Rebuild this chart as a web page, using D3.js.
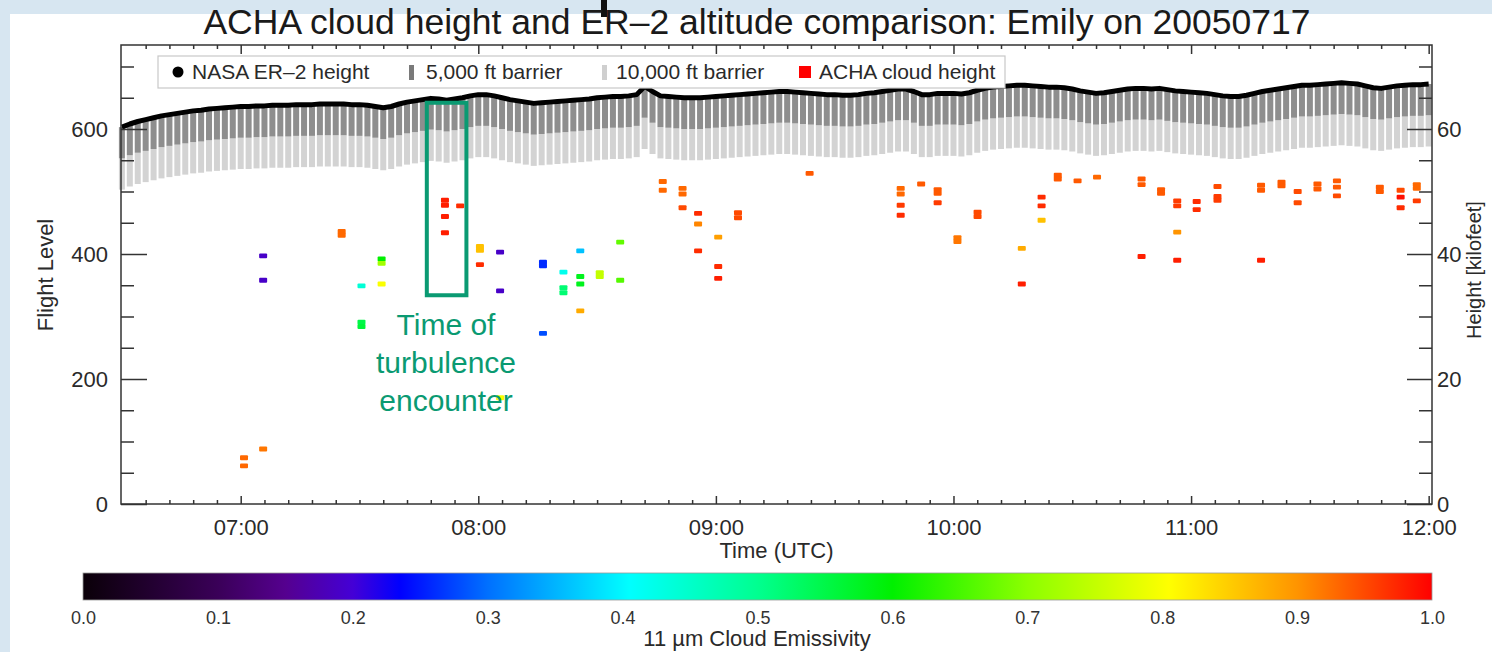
<!DOCTYPE html>
<html><head><meta charset="utf-8">
<script src="https://cdn.jsdelivr.net/npm/d3@7"></script>
<style>
body{margin:0;background:#fff;}
svg{display:block;font-family:"Liberation Sans",Arial,Helvetica,sans-serif;}
</style>
</head><body>
<svg id="c" width="1492" height="652"></svg>
<script>
// ---------------- data ----------------
const er2StartTime = "06:30:00";
const er2StepMinutes = 2;
const er2Height = [
  603,608,612,615,618, 621,623,625,627,629, 630,632,633,634,635,
  636,636,637,637,638, 638,638,639,639,639, 640,640,640,640,639,
  639,638,636,634,636, 640,643,645,647,649, 648,646,648,650,653,
  655,655,653,650,647, 645,643,641,642,643, 644,645,646,647,648,
  650,651,652,652,653, 655,668,660,653,652, 651,650,650,650,651,
  652,653,654,655,656, 657,658,659,660,660, 659,658,657,656,655,
  655,654,654,655,657, 658,660,662,664,664, 660,655,655,657,657,
  657,656,658,662,665, 667,668,669,670,670, 669,668,667,667,666,
  664,661,659,657,658, 660,662,664,665,665, 664,665,663,661,660,
  659,658,657,655,653, 652,652,654,657,660, 662,664,666,668,670,
  670,671,672,673,674, 673,672,669,666,665, 667,669,670,671,671,
  672
];
const barrierInner = 50;   // 5,000 ft
const barrierOuter = 100;  // 10,000 ft

const cloudTime = [
  "07:00:50","07:00:50",
  "07:05:40","07:05:40","07:05:40",
  "07:25:30","07:25:30",
  "07:30:30","07:30:30","07:30:30",
  "07:35:35","07:35:35","07:35:35",
  "07:51:35","07:51:35","07:51:35","07:51:35",
  "07:55:25",
  "08:00:25","08:00:25","08:00:25",
  "08:05:30","08:05:30","08:05:30",
  "08:16:20","08:16:20","08:16:20",
  "08:21:30","08:21:30","08:21:30",
  "08:25:45","08:25:45","08:25:45","08:25:45",
  "08:30:40","08:30:40",
  "08:35:50","08:35:50",
  "08:46:35","08:46:35",
  "08:51:35","08:51:35","08:51:35",
  "08:55:30","08:55:30","08:55:30",
  "09:00:35","09:00:35","09:00:35",
  "09:05:35","09:05:35",
  "09:23:40",
  "09:46:40","09:46:40","09:46:40","09:46:40",
  "09:51:50",
  "09:56:00","09:56:00","09:56:00",
  "10:01:00","10:01:00",
  "10:06:05","10:06:05",
  "10:17:15","10:17:15",
  "10:22:15","10:22:15","10:22:15",
  "10:26:20","10:26:20",
  "10:31:20",
  "10:36:15",
  "10:47:30","10:47:30","10:47:30",
  "10:52:25","10:52:25",
  "10:56:30","10:56:30","10:56:30","10:56:30",
  "11:01:25","11:01:25",
  "11:06:40","11:06:40","11:06:40",
  "11:17:40","11:17:40","11:17:40",
  "11:22:50","11:22:50",
  "11:26:55","11:26:55",
  "11:31:55","11:31:55",
  "11:36:50","11:36:50","11:36:50",
  "11:47:40","11:47:40",
  "11:52:55","11:52:55","11:52:55",
  "11:57:00","11:57:00","11:57:00"
];
const cloudFL = [
  74,61,
  88,397,358,
  436,430,
  349,291,284,
  392,385,352,
  486,478,460,434,
  477,
  412,406,383,
  403,341,170,
  387,381,273,
  371,346,338,
  405,364,352,309,
  370,364,
  419,358,
  516,502,
  505,496,474,
  465,448,405,
  427,380,361,
  466,458,
  529,
  505,496,478,462,
  512,
  503,497,482,
  426,420,
  467,460,
  409,352,
  491,477,454,
  526,520,
  517,
  523,
  520,511,396,
  503,497,
  485,477,435,390,
  484,471,
  508,492,486,
  510,502,390,
  515,509,
  500,482,
  512,504,
  517,507,493,
  507,500,
  502,491,474,
  511,505,485
];
const cloudEmis = [
  .93,.93,
  .92,.19,.19,
  .93,.93,
  .44,.55,.56,
  .60,.72,.80,
  .98,.98,.98,.98,
  .97,
  .86,.86,.97,
  .19,.19,.80,
  .26,.26,.28,
  .42,.52,.52,
  .36,.58,.58,.88,
  .75,.75,
  .67,.66,
  .93,.93,
  .93,.93,.95,
  .97,.91,.97,
  .89,.97,.98,
  .95,.95,
  .94,
  .93,.93,.96,.97,
  .94,
  .94,.94,.96,
  .92,.92,
  .95,.95,
  .88,.98,
  .97,.97,.86,
  .94,.94,
  .94,
  .93,
  .94,.94,.98,
  .94,.94,
  .96,.96,.90,.98,
  .97,.97,
  .95,.96,.96,
  .94,.94,.98,
  .94,.94,
  .95,.95,
  .94,.94,
  .94,.94,.95,
  .94,.94,
  .95,.99,.97,
  .93,.93,.96
];

const flTicks = [0, 200, 400, 600];
const kftTicks = [0, 20, 40, 60];
const timeTickLabels = ["07:00","08:00","09:00","10:00","11:00","12:00"];
const emisTicks = [0.0,0.1,0.2,0.3,0.4,0.5,0.6,0.7,0.8,0.9,1.0];
const emisStops  = [0, 0.1, 0.15, 0.2, 0.235, 0.3, 0.405, 0.5, 0.6, 0.7, 0.805, 0.9, 1.0];
const emisColors = ["#0a0008","#3a0058","#55008f","#4400d6","#0000ff","#0070ff","#00ffff","#00ff90","#00f000","#8cff00","#ffff00","#ff9400","#ff0000"];

const turbulenceStart = "07:47:00", turbulenceEnd = "07:57:00";
const turbulenceFL = [334, 642];

const titleText = "ACHA cloud height and ER\u20132 altitude comparison: Emily on 20050717";
const legendLabels = ["NASA ER\u20132 height","5,000 ft barrier","10,000 ft barrier","ACHA cloud height"];

// ---------------- helpers ----------------
const hrs = s => { const p = s.split(":").map(Number); return p[0] + p[1]/60 + (p[2]||0)/3600; };

const svg = d3.select("#c");
// slide background
svg.append("rect").attr("width",1492).attr("height",652).attr("fill","#d7e6f1");
svg.append("rect").attr("x",10).attr("y",14).attr("width",1482).attr("height",638).attr("fill","#fff");
svg.append("rect").attr("x",601).attr("y",0).attr("width",6).attr("height",17).attr("fill","#111");

const L = 121, R = 1432, T = 45, B = 504;
const x = d3.scaleLinear().domain([6.4962, 12.014]).range([L, R]);
const y = d3.scaleLinear().domain([0, 734.4]).range([B, T]);
const yK = d3.scaleLinear().domain([0, 73.44]).range([B, T]);

const emisColor = d3.scaleLinear().domain(emisStops).range(emisColors).clamp(true);

// barriers
const t0 = hrs(er2StartTime);
const er2 = er2Height.map((h,i) => ({t: t0 + i*er2StepMinutes/60, h}));
const gBar = svg.append("g");
er2.forEach(d => {
  gBar.append("rect").attr("x", x(d.t)-3).attr("width",6)
    .attr("y", y(d.h - barrierInner)).attr("height", y(d.h - barrierOuter) - y(d.h - barrierInner))
    .attr("fill","#d3d3d3");
  gBar.append("rect").attr("x", x(d.t)-3).attr("width",6)
    .attr("y", y(d.h)).attr("height", y(d.h - barrierInner) - y(d.h))
    .attr("fill","#8e8e8e");
});
// ER-2 line
svg.append("path").datum(er2)
  .attr("d", d3.line().x(d=>x(d.t)).y(d=>y(d.h)))
  .attr("fill","none").attr("stroke","#000").attr("stroke-width",5).attr("stroke-linejoin","round");

// cloud markers
svg.append("g").selectAll("rect").data(cloudTime.map((t,i)=>({t:hrs(t), fl:cloudFL[i], e:cloudEmis[i]})))
  .join("rect")
  .attr("x", d=>x(d.t)-4).attr("y", d=>y(d.fl)-2.4).attr("width",8).attr("height",4.8)
  .attr("rx",1).attr("fill", d=>emisColor(d.e));

// axes
const axisColor = "#333";
function styleAxis(g){
  g.select(".domain").remove();
  g.selectAll("line").attr("stroke",axisColor).attr("stroke-width",1.5);
  g.selectAll("text").attr("fill","#2a2a2a").attr("font-size",22).attr("font-family",'"Liberation Sans",Arial,sans-serif');
}
const minorFL = d3.range(0, 734, 50).filter(v => !flTicks.includes(v));
const minorK = d3.range(0, 73.4, 5).filter(v => !kftTicks.includes(v));
const hourTicks = timeTickLabels.map(hrs);
const minorT = d3.range(66, 721, 1).map(k=>k*0.1).filter(v => v>x.domain()[0] && v<x.domain()[1] && Math.abs(v-Math.round(v))>0.01);

svg.append("g").attr("transform",`translate(${L},0)`)
  .call(d3.axisLeft(y).tickValues(flTicks).tickSizeInner(-26).tickSizeOuter(0).tickPadding(13).tickFormat(d3.format("d")))
  .call(styleAxis);
svg.append("g").attr("transform",`translate(${L},0)`)
  .call(d3.axisLeft(y).tickValues(minorFL).tickSizeInner(-13).tickSizeOuter(0).tickFormat(""))
  .call(styleAxis);
svg.append("g").attr("transform",`translate(${R},0)`)
  .call(d3.axisRight(yK).tickValues(kftTicks).tickSizeInner(-25).tickSizeOuter(0).tickPadding(5).tickFormat(d3.format("d")))
  .call(styleAxis);
svg.append("g").attr("transform",`translate(${R},0)`)
  .call(d3.axisRight(yK).tickValues(minorK).tickSizeInner(-13).tickSizeOuter(0).tickFormat(""))
  .call(styleAxis);
svg.append("g").attr("transform",`translate(0,${B})`)
  .call(d3.axisBottom(x).tickValues(hourTicks).tickSizeInner(-8).tickSizeOuter(0).tickPadding(15).tickFormat((d,i)=>timeTickLabels[i]))
  .call(styleAxis);
svg.append("g").attr("transform",`translate(0,${B})`)
  .call(d3.axisBottom(x).tickValues(minorT).tickSizeInner(-4).tickSizeOuter(0).tickFormat(""))
  .call(styleAxis);
svg.append("g").attr("transform",`translate(0,${T})`)
  .call(d3.axisTop(x).tickValues(hourTicks).tickSizeInner(-9).tickSizeOuter(0).tickFormat(""))
  .call(styleAxis);
svg.append("g").attr("transform",`translate(0,${T})`)
  .call(d3.axisTop(x).tickValues(minorT).tickSizeInner(-4).tickSizeOuter(0).tickFormat(""))
  .call(styleAxis);
// frame
svg.append("rect").attr("x",L).attr("y",T).attr("width",R-L).attr("height",B-T)
  .attr("fill","none").attr("stroke",axisColor).attr("stroke-width",1.5);

// axis titles
svg.append("text").attr("transform",`translate(53,275) rotate(-90)`).attr("text-anchor","middle")
  .attr("font-size",22).attr("fill","#2a2a2a").text("Flight Level");
svg.append("text").attr("transform",`translate(1481,270) rotate(-90)`).attr("text-anchor","middle")
  .attr("font-size",20).attr("fill","#2a2a2a").text("Height [kilofeet]");
svg.append("text").attr("x",(L+R)/2).attr("y",558).attr("text-anchor","middle")
  .attr("font-size",22).attr("fill","#2a2a2a").text("Time (UTC)");
// title
svg.append("text").attr("x",757).attr("y",34).attr("text-anchor","middle")
  .attr("font-size",35.5).attr("fill","#1a1a1a").text(titleText);

// legend
const lg = svg.append("g");
lg.append("rect").attr("x",158).attr("y",56).attr("width",847).attr("height",32)
  .attr("fill","#fff").attr("stroke","#c8c8c8").attr("stroke-width",1.2);
lg.append("circle").attr("cx",178).attr("cy",72).attr("r",5.5).attr("fill","#000");
lg.append("rect").attr("x",409).attr("y",65).attr("width",5).attr("height",15).attr("fill","#7a7a7a");
lg.append("rect").attr("x",602).attr("y",65).attr("width",5).attr("height",15).attr("fill","#cfcfcf");
lg.append("rect").attr("x",799).attr("y",66).attr("width",12).attr("height",12).attr("fill","#ff0000");
[[192,0],[426,1],[616,2],[819,3]].forEach(([xx,i]) =>
  lg.append("text").attr("x",xx).attr("y",79).attr("font-size",21).attr("fill","#2a2a2a").text(legendLabels[i]));

// turbulence annotation
const teal = "#0a9a72";
svg.append("rect").attr("x",x(hrs(turbulenceStart))).attr("y",y(turbulenceFL[1]))
  .attr("width",x(hrs(turbulenceEnd))-x(hrs(turbulenceStart))).attr("height",y(turbulenceFL[0])-y(turbulenceFL[1]))
  .attr("fill","none").attr("stroke",teal).attr("stroke-width",4);
["Time of","turbulence","encounter"].forEach((s,i)=>
  svg.append("text").attr("x",446).attr("y",335+i*38).attr("text-anchor","middle")
    .attr("font-size",30).attr("fill",teal).text(s));

// colorbar
const cbL = 83, cbR = 1432, cbT = 573, cbB = 600;
const grad = svg.append("defs").append("linearGradient").attr("id","cb");
emisStops.forEach((s,i)=>grad.append("stop").attr("offset",s).attr("stop-color",emisColors[i]));
svg.append("rect").attr("x",cbL).attr("y",cbT).attr("width",cbR-cbL).attr("height",cbB-cbT)
  .attr("fill","url(#cb)").attr("stroke","#999").attr("stroke-width",0.8);
const xe = d3.scaleLinear().domain([0,1]).range([cbL, cbR]);
svg.append("g").attr("transform",`translate(0,${cbB})`)
  .call(d3.axisBottom(xe).tickValues(emisTicks).tickSize(0).tickPadding(11).tickFormat(d3.format(".1f")))
  .call(g=>{g.select(".domain").remove(); g.selectAll("text").attr("font-size",18).attr("fill","#333").attr("font-family",'"Liberation Sans",Arial,sans-serif');});
svg.append("text").attr("x",757).attr("y",646).attr("text-anchor","middle")
  .attr("font-size",22).attr("fill","#2a2a2a").text("11 \u00b5m Cloud Emissivity");
</script>
</body></html>
